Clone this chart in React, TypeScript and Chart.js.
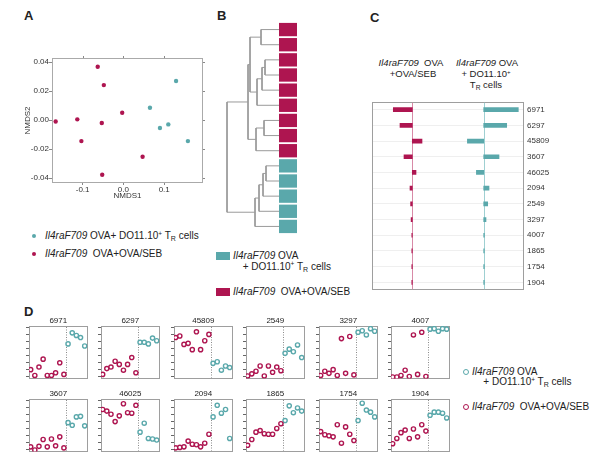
import React, { useEffect, useRef } from "react";
import { Chart, registerables } from "chart.js";

Chart.register(...registerables);
const FONT = '"Liberation Sans", Arial, Helvetica, sans-serif';
Chart.defaults.font.family = FONT;
Chart.defaults.color = "#333";

const RED = "#AE1550";
const TEAL = "#5AA8AB";
const FRAME = "#9e9e9e";

// ---------- Panel A: NMDS ----------
const nmdsSebX = [-0.063, -0.048, -0.003, -0.113, -0.166, -0.053, -0.103, 0.047, -0.052];
const nmdsSebY = [0.0368, 0.0241, 0.005, 0.0005, -0.001, -0.002, -0.0145, -0.0253, -0.0377];
const nmdsTrX = [0.065, 0.129, 0.0895, 0.11, 0.158];
const nmdsTrY = [0.0085, 0.0269, -0.0055, -0.003, -0.0145];
const nmdsXTicks = [-0.1, 0, 0.1];
const nmdsYTicks = [-0.04, -0.02, 0, 0.02, 0.04];

// ---------- Panel B: dendrogram (hclust-style merges: negative = leaf, positive = earlier merge) ----------
const leafGroups = ["SEB", "SEB", "SEB", "SEB", "SEB", "SEB", "SEB", "SEB", "SEB", "TR", "TR", "TR", "TR", "TR"];
const dendroMerges: [number, number, number][] = [
  [-1, -2, 19], [-3, -4, 15], [2, -5, 18], [3, -6, 23], [1, 4, 30],
  [-7, -8, 16], [6, -9, 24], [5, 7, 32],
  [-10, -11, 14], [9, -12, 17], [10, -13, 21], [11, -14, 25],
  [8, 12, 53],
];

// ---------- Panel C: OTU weights ----------
const otuLabels = ["6971", "6297", "45809", "3607", "46025", "2094", "2549", "3297", "4007", "1865", "1754", "1904"];
const weightsSeb = [-19, -12.3, 9.7, -8.3, 3.7, -2.3, -1.7, -1.2, -0.5, -0.5, -0.5, -0.5];
const weightsTr = [34.6, 23, -16.3, 15.3, -7.3, 5.3, 4, 2.3, 0.7, 0.6, 0.6, 0.6];
const TR_BASE = 71.4;

// ---------- Panel D: relative abundance per OTU (first 9 = OVA/SEB, last 5 = TR) ----------
const SEB_N = 9;
const ab6971 = [0.17, 0.06, 0.22, 0.37, 0.06, 0.06, 0.11, 0.30, 0.08, 0.66, 0.87, 0.82, 0.78, 0.62];
const ab6297 = [0.08, 0.19, 0.22, 0.33, 0.27, 0.16, 0.27, 0.40, 0.11, 0.69, 0.69, 0.66, 0.77, 0.72];
const ab45809 = [0.78, 0.81, 0.65, 0.67, 0.55, 0.89, 0.55, 0.72, 0.84, 0.29, 0.32, 0.16, 0.24, 0.21];
const ab2549 = [0.05, 0.09, 0.14, 0.24, 0.05, 0.24, 0.12, 0.22, 0.15, 0.48, 0.56, 0.51, 0.64, 0.40];
const ab3297 = [0.06, 0.14, 0.10, 0.17, 0.06, 0.76, 0.10, 0.80, 0.07, 0.88, 0.91, 0.83, 0.95, 0.90];
const ab4007 = [0.03, 0.03, 0.06, 0.16, 0.04, 0.83, 0.08, 0.88, 0.04, 0.94, 0.95, 0.90, 0.95, 0.94];
const ab3607 = [0.09, 0.03, 0.10, 0.23, 0.09, 0.24, 0.11, 0.28, 0.07, 0.55, 0.50, 0.66, 0.67, 0.49];
const ab46025 = [0.80, 0.77, 0.71, 0.57, 0.68, 0.91, 0.74, 0.73, 0.88, 0.37, 0.54, 0.25, 0.24, 0.22];
const ab2094 = [0.07, 0.08, 0.09, 0.20, 0.14, 0.13, 0.09, 0.16, 0.33, 0.66, 0.88, 0.73, 0.80, 0.25];
const ab1865 = [0.12, 0.23, 0.37, 0.40, 0.34, 0.33, 0.33, 0.44, 0.53, 0.59, 0.87, 0.74, 0.83, 0.77];
const ab1754 = [0.38, 0.32, 0.30, 0.28, 0.51, 0.16, 0.47, 0.33, 0.21, 0.59, 0.92, 0.79, 0.75, 0.66];
const ab1904 = [0.15, 0.25, 0.36, 0.41, 0.25, 0.43, 0.28, 0.51, 0.39, 0.69, 0.75, 0.75, 0.73, 0.64];
const dPanelNames = ["6971", "6297", "45809", "2549", "3297", "4007", "3607", "46025", "2094", "1865", "1754", "1904"];
const dPanelValues = [ab6971, ab6297, ab45809, ab2549, ab3297, ab4007, ab3607, ab46025, ab2094, ab1865, ab1754, ab1904];
const miniYTicks = [0.035, 0.168, 0.301, 0.434, 0.567, 0.7, 0.833, 0.966];

const D_LEFTS = [29, 101, 174, 246, 319, 391];
const D_TOPS = [326, 399];
const D_W = 63;
const D_H = 57;

// ---------- plugins ----------
const framePlugin = (color: string) => ({
  id: "frame",
  beforeDatasetsDraw(chart: any) {
    const { ctx, chartArea: a } = chart;
    ctx.save();
    ctx.strokeStyle = color;
    ctx.lineWidth = 1;
    ctx.strokeRect(Math.round(a.left) + 0.5, Math.round(a.top) + 0.5, Math.round(a.right - a.left) - 1, Math.round(a.bottom - a.top) - 1);
    ctx.restore();
  },
});

// small outward tick marks on the top and right edges (mirror of the axis ticks)
const mirrorTicksPlugin = {
  id: "mirrorTicks",
  afterDraw(chart: any) {
    const { ctx, chartArea: a, scales } = chart;
    ctx.save();
    ctx.strokeStyle = "#888";
    ctx.lineWidth = 1;
    ctx.beginPath();
    scales.x.ticks.forEach((t: any) => {
      const x = Math.round(scales.x.getPixelForValue(t.value)) + 0.5;
      ctx.moveTo(x, a.top);
      ctx.lineTo(x, a.top - 2);
    });
    scales.y.ticks.forEach((t: any) => {
      const y = Math.round(scales.y.getPixelForValue(t.value)) + 0.5;
      ctx.moveTo(a.right, y);
      ctx.lineTo(a.right + 2, y);
    });
    ctx.stroke();
    ctx.restore();
  },
};

const vLinePlugin = (id: string, value: number, color: string, dash: number[]) => ({
  id,
  beforeDatasetsDraw(chart: any) {
    const { ctx, chartArea: a, scales } = chart;
    const x = Math.round(scales.x.getPixelForValue(value)) + 0.5;
    ctx.save();
    ctx.strokeStyle = color;
    ctx.lineWidth = 1;
    ctx.setLineDash(dash);
    ctx.beginPath();
    ctx.moveTo(x, a.top + 1);
    ctx.lineTo(x, a.bottom - 1);
    ctx.stroke();
    ctx.restore();
  },
});

const baseOpts = {
  animation: false as const,
  responsive: false,
  devicePixelRatio: 1,
};
const noLegend = { legend: { display: false }, tooltip: { enabled: false } };

// ---------- configs ----------
function nmdsConfig(): any {
  return {
    type: "scatter",
    data: {
      datasets: [
        { data: nmdsTrX.map((x, i) => ({ x, y: nmdsTrY[i] })), backgroundColor: TEAL, borderColor: TEAL, pointRadius: 2.2, borderWidth: 0 },
        { data: nmdsSebX.map((x, i) => ({ x, y: nmdsSebY[i] })), backgroundColor: RED, borderColor: RED, pointRadius: 2.2, borderWidth: 0 },
      ],
    },
    options: {
      ...baseOpts,
      layout: { padding: { top: 13, right: 12, left: 0, bottom: 0 } },
      plugins: noLegend,
      scales: {
        x: {
          type: "linear", min: -0.175, max: 0.195,
          afterBuildTicks: (s: any) => { s.ticks = nmdsXTicks.map((v) => ({ value: v })); },
          afterFit: (s: any) => { s.height = 27; },
          ticks: { font: { size: 8 }, color: "#333", padding: 0, maxRotation: 0, callback: (v: any) => Number(v).toFixed(1) },
          grid: { drawOnChartArea: false, tickLength: 2, color: "#888" },
          border: { display: false },
          title: { display: true, text: "NMDS1", font: { size: 8 }, color: "#333", padding: { top: 0, bottom: 9 } },
        },
        y: {
          type: "linear", min: -0.0434, max: 0.0428,
          afterBuildTicks: (s: any) => { s.ticks = nmdsYTicks.map((v) => ({ value: v })); },
          afterFit: (s: any) => { s.width = 52; },
          ticks: { font: { size: 8 }, color: "#333", padding: 0, callback: (v: any) => Number(v).toFixed(2) },
          grid: { drawOnChartArea: false, tickLength: 3, color: "#888" },
          border: { display: false },
          title: { display: true, text: "NMDS2", font: { size: 8 }, color: "#333", padding: { top: 23, bottom: 0 } },
        },
      },
    },
    plugins: [framePlugin("#aaa"), mirrorTicksPlugin],
  };
}

function dendroConfig(): any {
  const ys: number[] = [];
  const hs: number[] = [];
  const node = (id: number) => (id < 0 ? { y: -id - 1, h: 0 } : { y: ys[id - 1], h: hs[id - 1] });
  const datasets = dendroMerges.map(([a, b, h]) => {
    const A = node(a);
    const B = node(b);
    ys.push((A.y + B.y) / 2);
    hs.push(h);
    return {
      data: [{ x: A.h, y: A.y }, { x: h, y: A.y }, { x: h, y: B.y }, { x: B.h, y: B.y }],
      showLine: true, borderColor: "#9a9a9a", borderWidth: 1, pointRadius: 0, tension: 0, fill: false,
    };
  });
  return {
    type: "scatter",
    data: { datasets },
    options: {
      ...baseOpts,
      plugins: noLegend,
      scales: {
        x: { type: "linear", display: false, min: 0, max: 55, reverse: true },
        y: { type: "linear", display: false, min: -0.5, max: leafGroups.length - 0.5, reverse: true },
      },
    },
  };
}

function squaresConfig(): any {
  return {
    type: "bar",
    data: {
      labels: leafGroups.map((_, i) => String(i + 1)),
      datasets: [{
        data: leafGroups.map(() => 1),
        backgroundColor: leafGroups.map((g) => (g === "TR" ? TEAL : RED)),
        categoryPercentage: 1, barPercentage: 0.88, borderWidth: 0,
      }],
    },
    options: {
      ...baseOpts,
      indexAxis: "y",
      plugins: noLegend,
      scales: { x: { display: false, min: 0, max: 1 }, y: { display: false } },
    },
  };
}

function weightsConfig(): any {
  return {
    type: "bar",
    data: {
      labels: otuLabels,
      datasets: [
        { data: weightsSeb.map((v) => [0, v]), backgroundColor: RED, barThickness: 4, borderWidth: 0 },
        { data: weightsTr.map((v) => [TR_BASE, TR_BASE + v]), backgroundColor: TEAL, barThickness: 4, borderWidth: 0 },
      ],
    },
    options: {
      ...baseOpts,
      indexAxis: "y",
      plugins: noLegend,
      datasets: { bar: { grouped: false } },
      scales: {
        x: { type: "linear", display: false, min: -40.3, max: 111.7 },
        y: {
          position: "right",
          afterFit: (s: any) => { s.width = 36; },
          ticks: { font: { size: 8 }, color: "#333", padding: 3 },
          grid: { offset: false, drawTicks: false, color: "#efefef" },
          border: { display: false },
        },
      },
    },
    plugins: [
      framePlugin(FRAME),
      vLinePlugin("redBase", 0, "#d88aa7", []),
      vLinePlugin("tealBase", TR_BASE, "#9fd0d2", []),
    ],
  };
}

function miniConfig(name: string, values: number[]): any {
  const seb = values.slice(0, SEB_N).map((v, i) => ({ x: i + 1, y: v }));
  const tr = values.slice(SEB_N).map((v, i) => ({ x: SEB_N + i + 1, y: v }));
  const pt = { backgroundColor: "#ffffff", pointRadius: 2.1, borderWidth: 1.4, pointBorderWidth: 1.4 };
  return {
    type: "scatter",
    data: {
      datasets: [
        { data: seb, borderColor: RED, pointBorderColor: RED, ...pt },
        { data: tr, borderColor: TEAL, pointBorderColor: TEAL, ...pt },
      ],
    },
    options: {
      ...baseOpts,
      layout: { padding: { right: 1, bottom: 1, left: 0, top: 0 } },
      plugins: {
        ...noLegend,
        title: { display: true, text: name, fullSize: false, font: { size: 8, weight: "normal" }, color: "#222", padding: { top: 2.2, bottom: 0.2 } },
      },
      scales: {
        x: { type: "linear", display: false, min: 0.6, max: 14.7 },
        y: {
          type: "linear", min: 0, max: 1,
          afterBuildTicks: (s: any) => { s.ticks = miniYTicks.map((v) => ({ value: v })); },
          afterFit: (s: any) => { s.width = 6; },
          ticks: { display: false },
          grid: { drawOnChartArea: false, tickLength: 3, color: "#666" },
          border: { display: false },
        },
      },
    },
    plugins: [framePlugin(FRAME), vLinePlugin("divider", SEB_N + 0.5, "#8a8a8a", [1, 1.5])],
  };
}

// ---------- components ----------
function ChartCanvas({ x, y, w, h, make }: { x: number; y: number; w: number; h: number; make: () => any }) {
  const ref = useRef<HTMLCanvasElement | null>(null);
  useEffect(() => {
    if (!ref.current) return;
    const chart = new Chart(ref.current, make());
    return () => chart.destroy();
  }, []);
  return (
    <canvas ref={ref} width={w} height={h}
      style={{ position: "absolute", left: x, top: y, width: w, height: h, display: "block" }} />
  );
}

function T({ x, y, size = 10, center = false, bold = false, children }: any) {
  return (
    <div style={{
      position: "absolute", left: x, top: y - size * 0.6, fontSize: size, lineHeight: `${size * 1.2}px`,
      whiteSpace: "nowrap", transform: center ? "translateX(-50%)" : undefined,
      fontWeight: bold ? "bold" : "normal", color: "#222", fontFamily: FONT,
    }}>{children}</div>
  );
}

const Sup = ({ children }: any) => <span style={{ fontSize: "0.65em", position: "relative", top: "-0.5em" }}>{children}</span>;
const Sub = ({ children }: any) => <span style={{ fontSize: "0.7em", position: "relative", top: "0.3em" }}>{children}</span>;
const Gene = () => <i>Il4raF709</i>;

function Dot({ x, y, r, color, open = false }: any) {
  return (
    <div style={{
      position: "absolute", left: x - r, top: y - r, width: 2 * r, height: 2 * r, borderRadius: "50%",
      boxSizing: "border-box", background: open ? "#fff" : color, border: open ? `1.4px solid ${color}` : "none",
    }} />
  );
}

function Rect({ x, y, w, h, color }: any) {
  return <div style={{ position: "absolute", left: x, top: y, width: w, height: h, background: color }} />;
}

export default function App() {
  return (
    <div style={{ position: "absolute", left: 0, top: 0, width: 600, height: 464, background: "#fff", fontFamily: FONT, overflow: "hidden" }}>
      {/* panel letters */}
      <T x={24} y={16} size={13} bold>A</T>
      <T x={217} y={16} size={13} bold>B</T>
      <T x={370} y={17.5} size={13} bold>C</T>
      <T x={24} y={312} size={13} bold>D</T>

      {/* A */}
      <ChartCanvas x={0} y={45} w={215} h={165} make={nmdsConfig} />
      <Dot x={34.3} y={236} r={2.2} color={TEAL} />
      <T x={45} y={236} size={10}><Gene /> OVA+ DO11.10<Sup>+</Sup> T<Sub>R</Sub> cells</T>
      <Dot x={34.3} y={254.3} r={2.2} color={RED} />
      <T x={45} y={254.3} size={10}><Gene />{"\u00a0 "}OVA+OVA/SEB</T>

      {/* B */}
      <ChartCanvas x={225} y={22} w={55} h={212} make={dendroConfig} />
      <ChartCanvas x={279} y={22} w={18} h={212} make={squaresConfig} />
      <Rect x={216} y={252} w={14} h={8} color={TEAL} />
      <T x={233} y={255.7} size={10}><Gene /> OVA</T>
      <T x={242.7} y={266.7} size={10}>+ DO11.10<Sup>+</Sup> T<Sub>R</Sub> cells</T>
      <Rect x={216} y={288.3} w={14} h={8} color={RED} />
      <T x={233} y={292.3} size={10}><Gene />{"\u00a0 "}OVA+OVA/SEB</T>

      {/* C */}
      <T x={411} y={63} size={9.5} center><Gene />{"\u00a0 "}OVA</T>
      <T x={413} y={74} size={9.5} center>+OVA/SEB</T>
      <T x={487} y={63} size={9.5} center><Gene /> OVA</T>
      <T x={486} y={74} size={9.5} center>+ DO11.10<Sup>+</Sup></T>
      <T x={486} y={85} size={9.5} center>T<Sub>R</Sub> cells</T>
      <ChartCanvas x={372} y={94} w={188} h={204} make={weightsConfig} />

      {/* D */}
      {dPanelNames.map((name, i) => {
        const col = i % 6;
        const row = Math.floor(i / 6);
        return (
          <ChartCanvas key={name} x={D_LEFTS[col] - 6} y={D_TOPS[row] - 12} w={D_W + 7} h={D_H + 13}
            make={() => miniConfig(name, dPanelValues[i])} />
        );
      })}
      <Dot x={465.7} y={372.3} r={3} color={TEAL} open />
      <T x={472} y={372.3} size={10}><Gene /> OVA</T>
      <T x={483.3} y={382.3} size={10}>+ DO11.10<Sup>+</Sup> T<Sub>R</Sub> cells</T>
      <Dot x={465.7} y={407.3} r={3} color={RED} open />
      <T x={472} y={407.3} size={10}><Gene />{"\u00a0 "}OVA+OVA/SEB</T>
    </div>
  );
}
